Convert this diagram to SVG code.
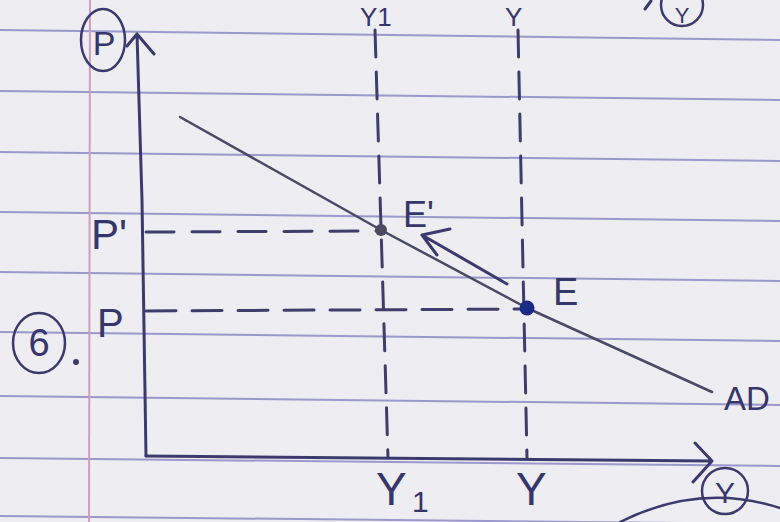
<svg xmlns="http://www.w3.org/2000/svg" width="780" height="522" viewBox="0 0 780 522">
<style>
.ink{fill:none;stroke:#3b3a6e;stroke-width:3;stroke-linecap:round;stroke-linejoin:round}
.dash{fill:none;stroke:#3e3d6c;stroke-width:3;stroke-linecap:round}
.rule{stroke:#9a98cc;stroke-width:2;fill:none}
.lbl{font-family:"Liberation Sans","DejaVu Sans",sans-serif;fill:#37366a}
</style>
<rect width="780" height="522" fill="#eeedf1"/>
<g id="paper">
<path class="rule" d="M0 30L780 40M0 91L780 100M0 152L780 161M0 212L780 221M0 272L780 281M0 332L780 341M0 396L780 405M0 458L780 466M0 516L780 524"/>
<path d="M90 0L89 522" stroke="#c9a0bd" stroke-width="2" fill="none"/>
</g>
<g id="connectors">
<path class="dash" d="M375 30L388 458" stroke-dasharray="27 15"/>
<path class="dash" d="M518 30L527 458" stroke-dasharray="27 15"/>
<path class="dash" d="M146 232L381 231" stroke-dasharray="28 18"/>
<path class="dash" d="M146 311L527 309" stroke="#34449a" stroke-dasharray="30 16"/>
<path id="AD" class="ink" style="stroke-width:2.5;stroke:#4a4966" d="M180 117L381 230L527 308L712 392"/>
<path id="shift" class="ink" d="M507 284L422 235M422 235L450 229M422 235L437 255"/>
</g>
<g id="axes">
<path class="ink" d="M137 34L142 200L146 456M127 46L137 34L154 54"/>
<path class="ink" d="M146 456L712 461M695 443L712 461L693 482"/>
</g>
<g id="point-E1"><circle cx="381" cy="230" r="6" fill="#4b4b5f"/></g>
<g id="point-E"><circle cx="527" cy="308" r="7.5" fill="#1a2c86"/></g>
<g id="labels">
<ellipse class="ink" cx="103" cy="40" rx="22" ry="31" style="stroke-width:2.5"/>
<text class="lbl" x="104" y="55" text-anchor="middle" font-size="34">P</text>
<text class="lbl" x="91" y="249" font-size="42">P'</text>
<text class="lbl" x="97" y="337" font-size="40">P</text>
<ellipse class="ink" cx="39" cy="343" rx="26" ry="30" style="stroke-width:2.5"/>
<text class="lbl" x="39" y="356" text-anchor="middle" font-size="38">6</text>
<circle cx="76" cy="362" r="3" fill="#3b3a6e"/>
<text class="lbl" x="403" y="227" font-size="36">E'</text>
<text class="lbl" x="553" y="305" font-size="38">E</text>
<text class="lbl" x="724" y="410" font-size="33">AD</text>
<text class="lbl" x="376" y="505" font-size="46">Y</text>
<text class="lbl" x="412" y="512" font-size="30">1</text>
<text class="lbl" x="516" y="505" font-size="46">Y</text>
<text class="lbl" x="360" y="26" font-size="26">Y1</text>
<text class="lbl" x="505" y="26" font-size="26">Y</text>
<circle class="ink" cx="682" cy="5" r="21" style="stroke-width:2.5"/>
<text class="lbl" x="682" y="23" text-anchor="middle" font-size="22">Y</text>
<path class="ink" d="M645 9L651 1"/>
<circle class="ink" cx="725" cy="491" r="23" style="stroke-width:2.5"/>
<text class="lbl" x="725" y="503" text-anchor="middle" font-size="30">Y</text>
<path class="ink" d="M620 522Q700 482 780 508" style="stroke-width:2.5"/>
</g>
</svg>
